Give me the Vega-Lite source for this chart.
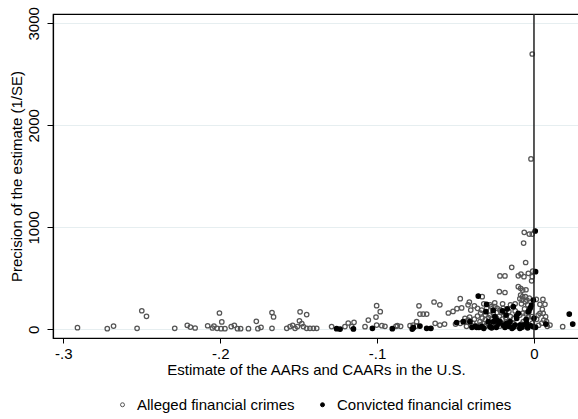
{
  "$schema": "https://vega.github.io/schema/vega-lite/v6.json",
  "width": 526,
  "height": 324,
  "autosize": {"type": "none"},
  "padding": {"left": 53, "top": 14, "right": 0, "bottom": 81},
  "background": "white",
  "config": {
    "font": "Liberation Sans",
    "view": {"stroke": "black", "strokeWidth": 1.2},
    "axis": {
      "domainColor": "black", "domainWidth": 1.2, "tickColor": "black", "tickWidth": 1,
      "labelColor": "black", "titleColor": "black", "labelFontSize": 15, "titleFontSize": 15,
      "titleFontWeight": "normal", "labelFlush": false, "labelOverlap": false
    }
  },
  "layer": [
    {
      "data": {"values": [
        {"x": -0.291, "y": 16, "crime": "Alleged financial crimes"},
        {"x": -0.272, "y": 6, "crime": "Alleged financial crimes"},
        {"x": -0.268, "y": 32, "crime": "Alleged financial crimes"},
        {"x": -0.250, "y": 182, "crime": "Alleged financial crimes"},
        {"x": -0.247, "y": 127, "crime": "Alleged financial crimes"},
        {"x": -0.253, "y": 10, "crime": "Alleged financial crimes"},
        {"x": -0.229, "y": 10, "crime": "Alleged financial crimes"},
        {"x": -0.221, "y": 39, "crime": "Alleged financial crimes"},
        {"x": -0.219, "y": 22, "crime": "Alleged financial crimes"},
        {"x": -0.216, "y": 13, "crime": "Alleged financial crimes"},
        {"x": -0.208, "y": 35, "crime": "Alleged financial crimes"},
        {"x": -0.205, "y": 13, "crime": "Alleged financial crimes"},
        {"x": -0.204, "y": 32, "crime": "Alleged financial crimes"},
        {"x": -0.202, "y": 10, "crime": "Alleged financial crimes"},
        {"x": -0.2005, "y": 160, "crime": "Alleged financial crimes"},
        {"x": -0.199, "y": 72, "crime": "Alleged financial crimes"},
        {"x": -0.1995, "y": 6, "crime": "Alleged financial crimes"},
        {"x": -0.197, "y": 6, "crime": "Alleged financial crimes"},
        {"x": -0.193, "y": 27, "crime": "Alleged financial crimes"},
        {"x": -0.191, "y": 39, "crime": "Alleged financial crimes"},
        {"x": -0.189, "y": 6, "crime": "Alleged financial crimes"},
        {"x": -0.187, "y": 6, "crime": "Alleged financial crimes"},
        {"x": -0.182, "y": 6, "crime": "Alleged financial crimes"},
        {"x": -0.177, "y": 78, "crime": "Alleged financial crimes"},
        {"x": -0.176, "y": 6, "crime": "Alleged financial crimes"},
        {"x": -0.174, "y": 20, "crime": "Alleged financial crimes"},
        {"x": -0.167, "y": 165, "crime": "Alleged financial crimes"},
        {"x": -0.166, "y": 121, "crime": "Alleged financial crimes"},
        {"x": -0.167, "y": 10, "crime": "Alleged financial crimes"},
        {"x": -0.1576, "y": 10, "crime": "Alleged financial crimes"},
        {"x": -0.1555, "y": 27, "crime": "Alleged financial crimes"},
        {"x": -0.1538, "y": 39, "crime": "Alleged financial crimes"},
        {"x": -0.1523, "y": 10, "crime": "Alleged financial crimes"},
        {"x": -0.1508, "y": 27, "crime": "Alleged financial crimes"},
        {"x": -0.1495, "y": 83, "crime": "Alleged financial crimes"},
        {"x": -0.1491, "y": 172, "crime": "Alleged financial crimes"},
        {"x": -0.148, "y": 55, "crime": "Alleged financial crimes"},
        {"x": -0.147, "y": 27, "crime": "Alleged financial crimes"},
        {"x": -0.1449, "y": 145, "crime": "Alleged financial crimes"},
        {"x": -0.1449, "y": 10, "crime": "Alleged financial crimes"},
        {"x": -0.1428, "y": 10, "crime": "Alleged financial crimes"},
        {"x": -0.1406, "y": 10, "crime": "Alleged financial crimes"},
        {"x": -0.1385, "y": 10, "crime": "Alleged financial crimes"},
        {"x": -0.129, "y": 27, "crime": "Alleged financial crimes"},
        {"x": -0.1205, "y": 27, "crime": "Alleged financial crimes"},
        {"x": -0.1184, "y": 62, "crime": "Alleged financial crimes"},
        {"x": -0.1162, "y": 27, "crime": "Alleged financial crimes"},
        {"x": -0.1147, "y": 69, "crime": "Alleged financial crimes"},
        {"x": -0.1077, "y": 26, "crime": "Alleged financial crimes"},
        {"x": -0.1056, "y": 91, "crime": "Alleged financial crimes"},
        {"x": -0.1003, "y": 232, "crime": "Alleged financial crimes"},
        {"x": -0.098, "y": 173, "crime": "Alleged financial crimes"},
        {"x": -0.1007, "y": 120, "crime": "Alleged financial crimes"},
        {"x": -0.1003, "y": 42, "crime": "Alleged financial crimes"},
        {"x": -0.097, "y": 36, "crime": "Alleged financial crimes"},
        {"x": -0.095, "y": 29, "crime": "Alleged financial crimes"},
        {"x": -0.088, "y": 30, "crime": "Alleged financial crimes"},
        {"x": -0.0871, "y": 36, "crime": "Alleged financial crimes"},
        {"x": -0.085, "y": 30, "crime": "Alleged financial crimes"},
        {"x": -0.079, "y": 36, "crime": "Alleged financial crimes"},
        {"x": -0.077, "y": 42, "crime": "Alleged financial crimes"},
        {"x": -0.075, "y": 32, "crime": "Alleged financial crimes"},
        {"x": -0.0748, "y": 75, "crime": "Alleged financial crimes"},
        {"x": -0.0733, "y": 230, "crime": "Alleged financial crimes"},
        {"x": -0.0727, "y": 150, "crime": "Alleged financial crimes"},
        {"x": -0.0706, "y": 150, "crime": "Alleged financial crimes"},
        {"x": -0.0684, "y": 150, "crime": "Alleged financial crimes"},
        {"x": -0.0637, "y": 268, "crime": "Alleged financial crimes"},
        {"x": -0.060, "y": 240, "crime": "Alleged financial crimes"},
        {"x": -0.063, "y": 59, "crime": "Alleged financial crimes"},
        {"x": -0.060, "y": 42, "crime": "Alleged financial crimes"},
        {"x": -0.057, "y": 52, "crime": "Alleged financial crimes"},
        {"x": -0.0546, "y": 160, "crime": "Alleged financial crimes"},
        {"x": -0.0516, "y": 175, "crime": "Alleged financial crimes"},
        {"x": -0.0491, "y": 202, "crime": "Alleged financial crimes"},
        {"x": -0.0461, "y": 210, "crime": "Alleged financial crimes"},
        {"x": -0.0470, "y": 300, "crime": "Alleged financial crimes"},
        {"x": -0.0412, "y": 268, "crime": "Alleged financial crimes"},
        {"x": -0.0403, "y": 189, "crime": "Alleged financial crimes"},
        {"x": -0.050, "y": 52, "crime": "Alleged financial crimes"},
        {"x": -0.047, "y": 59, "crime": "Alleged financial crimes"},
        {"x": -0.044, "y": 75, "crime": "Alleged financial crimes"},
        {"x": -0.042, "y": 91, "crime": "Alleged financial crimes"},
        {"x": -0.039, "y": 59, "crime": "Alleged financial crimes"},
        {"x": -0.033, "y": 320, "crime": "Alleged financial crimes"},
        {"x": -0.036, "y": 206, "crime": "Alleged financial crimes"},
        {"x": -0.0333, "y": 189, "crime": "Alleged financial crimes"},
        {"x": -0.0302, "y": 206, "crime": "Alleged financial crimes"},
        {"x": -0.027, "y": 222, "crime": "Alleged financial crimes"},
        {"x": -0.0249, "y": 222, "crime": "Alleged financial crimes"},
        {"x": -0.0234, "y": 206, "crime": "Alleged financial crimes"},
        {"x": -0.0217, "y": 189, "crime": "Alleged financial crimes"},
        {"x": -0.0196, "y": 206, "crime": "Alleged financial crimes"},
        {"x": -0.0185, "y": 173, "crime": "Alleged financial crimes"},
        {"x": -0.034, "y": 160, "crime": "Alleged financial crimes"},
        {"x": -0.031, "y": 140, "crime": "Alleged financial crimes"},
        {"x": -0.028, "y": 140, "crime": "Alleged financial crimes"},
        {"x": -0.026, "y": 160, "crime": "Alleged financial crimes"},
        {"x": -0.021, "y": 165, "crime": "Alleged financial crimes"},
        {"x": -0.016, "y": 175, "crime": "Alleged financial crimes"},
        {"x": -0.012, "y": 180, "crime": "Alleged financial crimes"},
        {"x": -0.0142, "y": 608, "crime": "Alleged financial crimes"},
        {"x": -0.0053, "y": 655, "crime": "Alleged financial crimes"},
        {"x": -0.0217, "y": 523, "crime": "Alleged financial crimes"},
        {"x": -0.0185, "y": 523, "crime": "Alleged financial crimes"},
        {"x": -0.010, "y": 525, "crime": "Alleged financial crimes"},
        {"x": -0.0083, "y": 542, "crime": "Alleged financial crimes"},
        {"x": -0.0064, "y": 516, "crime": "Alleged financial crimes"},
        {"x": -0.0036, "y": 549, "crime": "Alleged financial crimes"},
        {"x": -0.0008, "y": 570, "crime": "Alleged financial crimes"},
        {"x": -0.0011, "y": 516, "crime": "Alleged financial crimes"},
        {"x": -0.0015, "y": 476, "crime": "Alleged financial crimes"},
        {"x": -0.0221, "y": 369, "crime": "Alleged financial crimes"},
        {"x": -0.0185, "y": 361, "crime": "Alleged financial crimes"},
        {"x": -0.010, "y": 418, "crime": "Alleged financial crimes"},
        {"x": -0.0085, "y": 402, "crime": "Alleged financial crimes"},
        {"x": -0.0072, "y": 385, "crime": "Alleged financial crimes"},
        {"x": -0.0051, "y": 388, "crime": "Alleged financial crimes"},
        {"x": -0.0085, "y": 336, "crime": "Alleged financial crimes"},
        {"x": -0.0072, "y": 320, "crime": "Alleged financial crimes"},
        {"x": -0.0055, "y": 320, "crime": "Alleged financial crimes"},
        {"x": -0.0075, "y": 287, "crime": "Alleged financial crimes"},
        {"x": -0.0055, "y": 271, "crime": "Alleged financial crimes"},
        {"x": -0.0045, "y": 287, "crime": "Alleged financial crimes"},
        {"x": -0.009, "y": 300, "crime": "Alleged financial crimes"},
        {"x": -0.003, "y": 305, "crime": "Alleged financial crimes"},
        {"x": 0.0015, "y": 294, "crime": "Alleged financial crimes"},
        {"x": 0.0057, "y": 294, "crime": "Alleged financial crimes"},
        {"x": 0.0038, "y": 245, "crime": "Alleged financial crimes"},
        {"x": 0.0070, "y": 245, "crime": "Alleged financial crimes"},
        {"x": 0.0053, "y": 196, "crime": "Alleged financial crimes"},
        {"x": 0.0038, "y": 157, "crime": "Alleged financial crimes"},
        {"x": 0.0059, "y": 157, "crime": "Alleged financial crimes"},
        {"x": 0.0074, "y": 124, "crime": "Alleged financial crimes"},
        {"x": 0.0063, "y": 91, "crime": "Alleged financial crimes"},
        {"x": 0.0080, "y": 75, "crime": "Alleged financial crimes"},
        {"x": 0.0102, "y": 42, "crime": "Alleged financial crimes"},
        {"x": 0.0183, "y": 26, "crime": "Alleged financial crimes"},
        {"x": -0.0011, "y": 2699, "crime": "Alleged financial crimes"},
        {"x": -0.0019, "y": 1670, "crime": "Alleged financial crimes"},
        {"x": -0.0062, "y": 951, "crime": "Alleged financial crimes"},
        {"x": -0.0030, "y": 934, "crime": "Alleged financial crimes"},
        {"x": -0.0011, "y": 934, "crime": "Alleged financial crimes"},
        {"x": -0.0066, "y": 846, "crime": "Alleged financial crimes"},
        {"x": -0.0344, "y": 75, "crime": "Alleged financial crimes"},
        {"x": -0.0323, "y": 59, "crime": "Alleged financial crimes"},
        {"x": -0.0302, "y": 42, "crime": "Alleged financial crimes"},
        {"x": -0.027, "y": 52, "crime": "Alleged financial crimes"},
        {"x": -0.0249, "y": 32, "crime": "Alleged financial crimes"},
        {"x": -0.0217, "y": 32, "crime": "Alleged financial crimes"},
        {"x": -0.0164, "y": 52, "crime": "Alleged financial crimes"},
        {"x": -0.0142, "y": 32, "crime": "Alleged financial crimes"},
        {"x": -0.011, "y": 32, "crime": "Alleged financial crimes"},
        {"x": -0.0068, "y": 75, "crime": "Alleged financial crimes"},
        {"x": -0.0047, "y": 98, "crime": "Alleged financial crimes"},
        {"x": -0.0036, "y": 124, "crime": "Alleged financial crimes"},
        {"x": -0.0015, "y": 124, "crime": "Alleged financial crimes"},
        {"x": 0.0017, "y": 98, "crime": "Alleged financial crimes"},
        {"x": 0.0027, "y": 140, "crime": "Alleged financial crimes"},
        {"x": -0.044, "y": 108, "crime": "Alleged financial crimes"},
        {"x": -0.041, "y": 120, "crime": "Alleged financial crimes"},
        {"x": -0.038, "y": 100, "crime": "Alleged financial crimes"},
        {"x": -0.036, "y": 130, "crime": "Alleged financial crimes"},
        {"x": -0.033, "y": 110, "crime": "Alleged financial crimes"},
        {"x": -0.031, "y": 95, "crime": "Alleged financial crimes"},
        {"x": -0.029, "y": 115, "crime": "Alleged financial crimes"},
        {"x": -0.027, "y": 100, "crime": "Alleged financial crimes"},
        {"x": -0.024, "y": 110, "crime": "Alleged financial crimes"},
        {"x": -0.022, "y": 130, "crime": "Alleged financial crimes"},
        {"x": -0.020, "y": 100, "crime": "Alleged financial crimes"},
        {"x": -0.018, "y": 115, "crime": "Alleged financial crimes"},
        {"x": -0.015, "y": 125, "crime": "Alleged financial crimes"},
        {"x": -0.013, "y": 105, "crime": "Alleged financial crimes"},
        {"x": -0.009, "y": 140, "crime": "Alleged financial crimes"},
        {"x": -0.007, "y": 160, "crime": "Alleged financial crimes"},
        {"x": -0.005, "y": 150, "crime": "Alleged financial crimes"},
        {"x": -0.003, "y": 180, "crime": "Alleged financial crimes"},
        {"x": -0.002, "y": 220, "crime": "Alleged financial crimes"},
        {"x": -0.004, "y": 240, "crime": "Alleged financial crimes"},
        {"x": -0.006, "y": 200, "crime": "Alleged financial crimes"},
        {"x": -0.008, "y": 250, "crime": "Alleged financial crimes"},
        {"x": -0.012, "y": 250, "crime": "Alleged financial crimes"},
        {"x": -0.015, "y": 240, "crime": "Alleged financial crimes"},
        {"x": -0.020, "y": 250, "crime": "Alleged financial crimes"},
        {"x": -0.025, "y": 260, "crime": "Alleged financial crimes"},
        {"x": -0.028, "y": 240, "crime": "Alleged financial crimes"},
        {"x": -0.032, "y": 250, "crime": "Alleged financial crimes"},
        {"x": -0.038, "y": 230, "crime": "Alleged financial crimes"},
        {"x": -0.042, "y": 240, "crime": "Alleged financial crimes"},
        {"x": -0.043, "y": 30, "crime": "Alleged financial crimes"},
        {"x": -0.040, "y": 40, "crime": "Alleged financial crimes"},
        {"x": -0.037, "y": 35, "crime": "Alleged financial crimes"},
        {"x": -0.034, "y": 45, "crime": "Alleged financial crimes"},
        {"x": -0.031, "y": 30, "crime": "Alleged financial crimes"},
        {"x": -0.029, "y": 50, "crime": "Alleged financial crimes"},
        {"x": -0.026, "y": 40, "crime": "Alleged financial crimes"},
        {"x": -0.023, "y": 55, "crime": "Alleged financial crimes"},
        {"x": -0.019, "y": 45, "crime": "Alleged financial crimes"},
        {"x": -0.017, "y": 60, "crime": "Alleged financial crimes"},
        {"x": -0.013, "y": 55, "crime": "Alleged financial crimes"},
        {"x": -0.008, "y": 50, "crime": "Alleged financial crimes"},
        {"x": -0.006, "y": 30, "crime": "Alleged financial crimes"},
        {"x": -0.003, "y": 45, "crime": "Alleged financial crimes"},
        {"x": -0.001, "y": 60, "crime": "Alleged financial crimes"},
        {"x": 0.003, "y": 40, "crime": "Alleged financial crimes"},
        {"x": 0.005, "y": 60, "crime": "Alleged financial crimes"},
        {"x": 0.0085, "y": 30, "crime": "Alleged financial crimes"},
        {"x": -0.1258, "y": 6, "crime": "Convicted financial crimes"},
        {"x": -0.1236, "y": 2, "crime": "Convicted financial crimes"},
        {"x": -0.1151, "y": 4, "crime": "Convicted financial crimes"},
        {"x": -0.103, "y": 10, "crime": "Convicted financial crimes"},
        {"x": -0.0903, "y": 6, "crime": "Convicted financial crimes"},
        {"x": -0.0776, "y": 3, "crime": "Convicted financial crimes"},
        {"x": -0.0769, "y": 16, "crime": "Convicted financial crimes"},
        {"x": -0.0727, "y": 32, "crime": "Convicted financial crimes"},
        {"x": -0.0684, "y": 10, "crime": "Convicted financial crimes"},
        {"x": -0.0657, "y": 10, "crime": "Convicted financial crimes"},
        {"x": -0.0493, "y": 67, "crime": "Convicted financial crimes"},
        {"x": -0.0451, "y": 75, "crime": "Convicted financial crimes"},
        {"x": -0.0408, "y": 75, "crime": "Convicted financial crimes"},
        {"x": -0.0365, "y": 20, "crime": "Convicted financial crimes"},
        {"x": -0.0351, "y": 20, "crime": "Convicted financial crimes"},
        {"x": -0.0333, "y": 26, "crime": "Convicted financial crimes"},
        {"x": -0.0355, "y": 326, "crime": "Convicted financial crimes"},
        {"x": -0.0302, "y": 245, "crime": "Convicted financial crimes"},
        {"x": -0.0306, "y": 173, "crime": "Convicted financial crimes"},
        {"x": -0.0291, "y": 75, "crime": "Convicted financial crimes"},
        {"x": -0.028, "y": 26, "crime": "Convicted financial crimes"},
        {"x": -0.0259, "y": 75, "crime": "Convicted financial crimes"},
        {"x": -0.0238, "y": 91, "crime": "Convicted financial crimes"},
        {"x": -0.0228, "y": 52, "crime": "Convicted financial crimes"},
        {"x": -0.0249, "y": 124, "crime": "Convicted financial crimes"},
        {"x": -0.0217, "y": 75, "crime": "Convicted financial crimes"},
        {"x": -0.0196, "y": 42, "crime": "Convicted financial crimes"},
        {"x": -0.0185, "y": 20, "crime": "Convicted financial crimes"},
        {"x": -0.0174, "y": 59, "crime": "Convicted financial crimes"},
        {"x": -0.0178, "y": 140, "crime": "Convicted financial crimes"},
        {"x": -0.0153, "y": 75, "crime": "Convicted financial crimes"},
        {"x": -0.0132, "y": 222, "crime": "Convicted financial crimes"},
        {"x": -0.0132, "y": 20, "crime": "Convicted financial crimes"},
        {"x": -0.0121, "y": 42, "crime": "Convicted financial crimes"},
        {"x": -0.011, "y": 108, "crime": "Convicted financial crimes"},
        {"x": -0.010, "y": 157, "crime": "Convicted financial crimes"},
        {"x": -0.0112, "y": 130, "crime": "Convicted financial crimes"},
        {"x": -0.0089, "y": 42, "crime": "Convicted financial crimes"},
        {"x": -0.0078, "y": 20, "crime": "Convicted financial crimes"},
        {"x": -0.0068, "y": 42, "crime": "Convicted financial crimes"},
        {"x": -0.0047, "y": 59, "crime": "Convicted financial crimes"},
        {"x": -0.0036, "y": 173, "crime": "Convicted financial crimes"},
        {"x": -0.0025, "y": 206, "crime": "Convicted financial crimes"},
        {"x": -0.0015, "y": 238, "crime": "Convicted financial crimes"},
        {"x": -0.0004, "y": 287, "crime": "Convicted financial crimes"},
        {"x": 0.0, "y": 108, "crime": "Convicted financial crimes"},
        {"x": 0.001, "y": 20, "crime": "Convicted financial crimes"},
        {"x": 0.0076, "y": 52, "crime": "Convicted financial crimes"},
        {"x": 0.0225, "y": 150, "crime": "Convicted financial crimes"},
        {"x": 0.0247, "y": 52, "crime": "Convicted financial crimes"},
        {"x": 0.001, "y": 565, "crime": "Convicted financial crimes"},
        {"x": 0.0008, "y": 964, "crime": "Convicted financial crimes"},
        {"x": -0.0004, "y": 26, "crime": "Convicted financial crimes"},
        {"x": -0.0395, "y": 20, "crime": "Convicted financial crimes"},
        {"x": -0.0375, "y": 30, "crime": "Convicted financial crimes"},
        {"x": -0.032, "y": 10, "crime": "Convicted financial crimes"},
        {"x": -0.027, "y": 15, "crime": "Convicted financial crimes"},
        {"x": -0.024, "y": 20, "crime": "Convicted financial crimes"},
        {"x": -0.016, "y": 30, "crime": "Convicted financial crimes"},
        {"x": -0.014, "y": 10, "crime": "Convicted financial crimes"},
        {"x": -0.009, "y": 10, "crime": "Convicted financial crimes"},
        {"x": -0.004, "y": 15, "crime": "Convicted financial crimes"},
        {"x": -0.002, "y": 35, "crime": "Convicted financial crimes"},
        {"x": -0.020, "y": 180, "crime": "Convicted financial crimes"},
        {"x": -0.026, "y": 185, "crime": "Convicted financial crimes"},
        {"x": -0.017, "y": 200, "crime": "Convicted financial crimes"},
        {"x": -0.005, "y": 95, "crime": "Convicted financial crimes"}
      ]},
      "mark": {"type": "circle", "size": 20, "strokeWidth": 1.25, "opacity": 1, "clip": true},
      "encoding": {
        "x": {
          "field": "x", "type": "quantitative",
          "scale": {"domain": [-0.3066, 0.0287], "nice": false, "zero": false},
          "axis": {
            "values": [-0.3, -0.2, -0.1, 0],
            "labelExpr": "datum.value == 0 ? '0' : '-.' + format(round(abs(datum.value) * 10), 'd')",
            "title": "Estimate of the AARs and CAARs in the U.S.",
            "grid": false, "tickSize": 5, "labelPadding": 3, "titlePadding": 1
          }
        },
        "y": {
          "field": "y", "type": "quantitative",
          "scale": {"domain": [-85, 3091], "nice": false, "zero": false},
          "axis": {
            "values": [0, 1000, 2000, 3000], "format": "d",
            "labelAngle": -90, "labelAlign": "center", "labelBaseline": "alphabetic",
            "grid": true, "gridColor": "#e6eef0", "gridWidth": 1,
            "title": "Precision of the estimate (1/SE)",
            "tickSize": 6, "labelPadding": 9, "titlePadding": 2
          }
        },
        "fill": {
          "field": "crime", "type": "nominal",
          "scale": {"domain": ["Alleged financial crimes", "Convicted financial crimes"], "range": ["transparent", "black"]},
          "legend": {"orient": "none", "legendX": 62, "legendY": 383, "direction": "horizontal", "title": null,
            "labelFontSize": 15, "labelColor": "black", "labelLimit": 400, "symbolSize": 16, "symbolStrokeWidth": 1, "symbolType": "circle",
            "columnPadding": 20, "labelOffset": 7}
        },
        "stroke": {
          "field": "crime", "type": "nominal",
          "scale": {"domain": ["Alleged financial crimes", "Convicted financial crimes"], "range": ["#555555", "black"]},
          "legend": {"orient": "none", "legendX": 62, "legendY": 383, "direction": "horizontal", "title": null,
            "labelFontSize": 15, "labelColor": "black", "labelLimit": 400, "symbolSize": 16, "symbolStrokeWidth": 1, "symbolType": "circle",
            "columnPadding": 20, "labelOffset": 7}
        }
      }
    },
    {
      "data": {"values": [{"ref": "zero"}]},
      "mark": {"type": "rule", "color": "#222222", "strokeWidth": 1.5},
      "encoding": {
        "x": {"datum": 0, "type": "quantitative"}
      }
    }
  ]
}
